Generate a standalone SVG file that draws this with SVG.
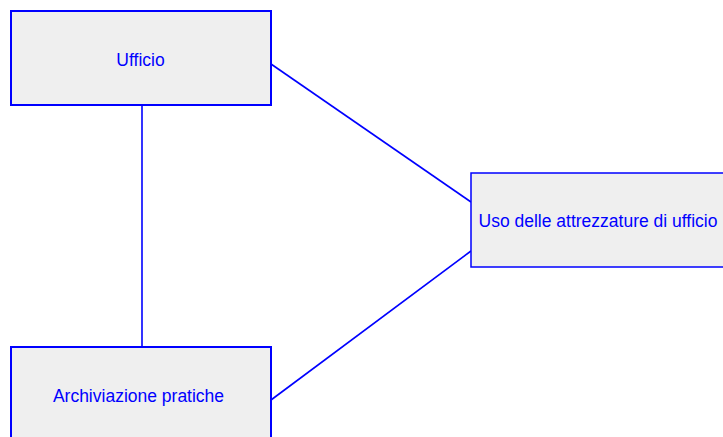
<svg xmlns="http://www.w3.org/2000/svg" width="723" height="437" viewBox="0 0 723 437">
<style>
.box{fill:#efefef;stroke:#0000ff;stroke-width:2}
.lbl{font-family:"Liberation Sans",Arial,sans-serif;font-size:17.5px;fill:#0000ff;text-anchor:middle}
.conn{stroke:#0000ff;stroke-width:1.6;fill:none}
</style>
<rect width="723" height="437" fill="#ffffff"/>
<g id="connectors">
<line class="conn" x1="142" y1="105" x2="142" y2="347"/>
<line class="conn" x1="271" y1="64" x2="471" y2="202"/>
<line class="conn" x1="271" y1="400" x2="471" y2="251"/>
</g>
<g id="ufficio">
<rect class="box" x="11" y="11" width="260" height="94"/>
<text class="lbl" x="140.5" y="66">Ufficio</text>
</g>
<g id="uso">
<rect class="box" x="471" y="173" width="254" height="94" style="stroke-width:1.5"/>
<text class="lbl" x="598" y="227">Uso delle attrezzature di ufficio</text>
</g>
<g id="archiviazione">
<rect class="box" x="11" y="347" width="260" height="94"/>
<text class="lbl" x="138.5" y="402">Archiviazione pratiche</text>
</g>
</svg>
